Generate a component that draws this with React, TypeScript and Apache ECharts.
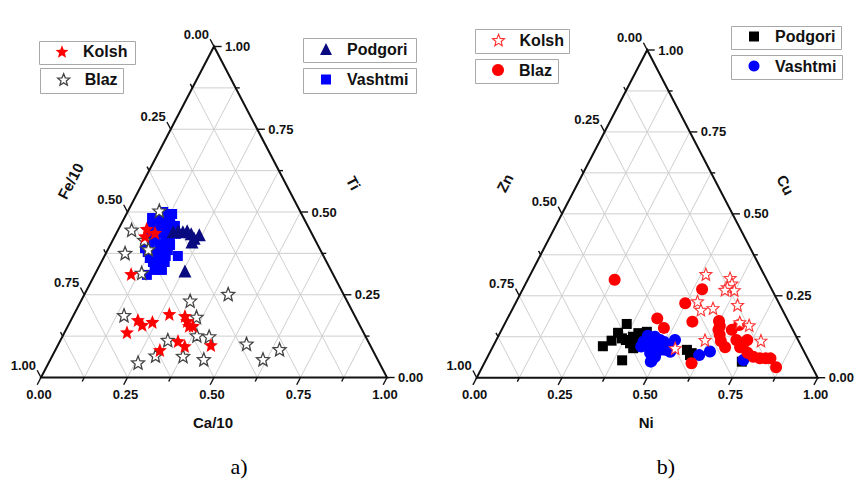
import React, { useEffect, useRef } from 'react';
import * as echarts from 'echarts';

// Axis ticks (shared by both ternary diagrams)
const tickValues = [0, 0.25, 0.5, 0.75, 1];
const tickLabels = ['0.00', '0.25', '0.50', '0.75', '1.00'];
const gridStep = 0.125;

// Axis titles
const titlesA = { bottom: 'Ca/10', left: 'Fe/10', right: 'Ti' };
const titlesB = { bottom: 'Ni', left: 'Zn', right: 'Cu' };
const panelLabels = ['a)', 'b)'];

// Panel a) samples as [Ca/10, Ti]; Fe/10 = 1 - Ca/10 - Ti
const aKolsh = [
  [0.081, 0.449], [0.111, 0.437], [0.087, 0.427], [0.104, 0.313], [0.180, 0.137], [0.193, 0.174],
  [0.213, 0.159], [0.238, 0.168], [0.275, 0.192], [0.323, 0.186], [0.337, 0.171], [0.350, 0.156],
  [0.361, 0.156], [0.341, 0.110], [0.368, 0.095], [0.302, 0.083], [0.442, 0.098],
];
const aBlaz = [
  [0.090, 0.504], [0.039, 0.446], [0.091, 0.415], [0.117, 0.387], [0.055, 0.376], [0.133, 0.316],
  [0.415, 0.252], [0.315, 0.232], [0.146, 0.188], [0.358, 0.183], [0.387, 0.127], [0.424, 0.124],
  [0.310, 0.113], [0.378, 0.065], [0.298, 0.066], [0.258, 0.045], [0.443, 0.055], [0.543, 0.102],
  [0.614, 0.055], [0.647, 0.085],
];
const aPodgori = [
  [0.162, 0.440], [0.175, 0.443], [0.190, 0.440], [0.201, 0.443], [0.217, 0.434], [0.232, 0.421],
  [0.242, 0.431], [0.232, 0.409], [0.255, 0.322],
];
const aVashtmi = [
  [0.103, 0.482], [0.114, 0.488], [0.135, 0.476], [0.100, 0.470], [0.092, 0.458], [0.120, 0.461],
  [0.141, 0.452], [0.158, 0.458], [0.118, 0.440], [0.138, 0.434], [0.159, 0.427], [0.121, 0.415],
  [0.142, 0.403], [0.156, 0.409], [0.116, 0.397], [0.119, 0.379], [0.139, 0.379], [0.157, 0.385],
  [0.157, 0.361], [0.183, 0.349], [0.175, 0.337], [0.187, 0.325], [0.212, 0.367], [0.151, 0.310],
  [0.159, 0.440], [0.173, 0.434], [0.132, 0.470], [0.103, 0.500], [0.107, 0.449], [0.099, 0.431],
  [0.105, 0.391], [0.134, 0.361], [0.149, 0.349], [0.166, 0.325], [0.174, 0.385], [0.173, 0.400],
  [0.177, 0.367], [0.080, 0.482], [0.132, 0.494], [0.098, 0.415],
];

// Panel b) samples as [Ni, Cu]; Zn = 1 - Ni - Cu
const bKolsh = [
  [0.514, 0.316], [0.591, 0.304], [0.605, 0.287], [0.597, 0.276], [0.622, 0.267], [0.594, 0.268],
  [0.531, 0.233], [0.554, 0.207], [0.587, 0.212], [0.654, 0.222], [0.687, 0.169], [0.719, 0.160],
  [0.612, 0.115], [0.777, 0.113], [0.537, 0.090],
];
const bBlaz = [
  [0.255, 0.299], [0.526, 0.270], [0.498, 0.227], [0.547, 0.171], [0.439, 0.181], [0.473, 0.152],
  [0.634, 0.158], [0.636, 0.146], [0.647, 0.131], [0.660, 0.112], [0.682, 0.093], [0.675, 0.146],
  [0.689, 0.161], [0.704, 0.115], [0.726, 0.093], [0.730, 0.107], [0.736, 0.115], [0.756, 0.076],
  [0.779, 0.064], [0.801, 0.059], [0.818, 0.059], [0.832, 0.059], [0.862, 0.032], [0.608, 0.044],
  [0.624, 0.173],
];
const bPodgori = [
  [0.358, 0.164], [0.339, 0.113], [0.322, 0.096], [0.366, 0.120], [0.380, 0.115], [0.397, 0.105],
  [0.396, 0.125], [0.406, 0.136], [0.429, 0.140], [0.414, 0.090], [0.400, 0.053], [0.574, 0.085],
  [0.593, 0.075], [0.591, 0.069], [0.753, 0.049], [0.346, 0.137], [0.421, 0.115],
];
const bVashtmi = [
  [0.449, 0.100], [0.461, 0.105], [0.460, 0.125], [0.480, 0.115], [0.471, 0.075], [0.491, 0.064],
  [0.486, 0.049], [0.510, 0.085], [0.524, 0.115], [0.515, 0.095], [0.435, 0.095], [0.434, 0.110],
  [0.618, 0.069], [0.644, 0.080], [0.755, 0.054], [0.496, 0.085], [0.487, 0.052], [0.438, 0.128],
  [0.478, 0.097], [0.495, 0.109], [0.528, 0.079],
];

const STAR =
  'path://M50 0 L62.9 32.2 L97.6 34.5 L70.9 56.8 L79.4 90.5 L50 72 L20.6 90.5 L29.1 56.8 L2.4 34.5 L37.1 32.2 Z';

const FONT = '"Liberation Sans", Arial, sans-serif';

// ternary [bottom, right] -> cartesian [x, y] in unit triangle
const toXY = (pts: number[][]) => pts.map(([a, t]) => [a + t / 2, t]);

function frameRenderer(titles: { bottom: string; left: string; right: string }) {
  return (_params: any, api: any) => {
    const P = (a: number, t: number) => api.coord([a + t / 2, t]);
    const children: any[] = [];
    const gridStyle = { stroke: '#cfcfcf', lineWidth: 1 };
    const axisStyle = { stroke: '#111', lineWidth: 1.4 };
    const line = (p: number[], q: number[], style: any) =>
      children.push({ type: 'line', shape: { x1: p[0], y1: p[1], x2: q[0], y2: q[1] }, style });
    const text = (s: string, x: number, y: number, align: string, font: string, rotation = 0) =>
      children.push({
        type: 'text',
        x,
        y,
        rotation,
        style: { text: s, align, verticalAlign: 'middle', font, fill: '#111' },
      });
    for (let k = 1; k < 8; k++) {
      const v = k * gridStep;
      line(P(0, v), P(1 - v, v), gridStyle);
      line(P(v, 0), P(v, 1 - v), gridStyle);
      line(P(1 - v, 0), P(0, 1 - v), gridStyle);
    }
    children.push({
      type: 'polygon',
      shape: { points: [P(0, 0), P(1, 0), P(0, 1)] },
      style: { fill: 'none', stroke: '#111', lineWidth: 2 },
    });
    for (let k = 0; k <= 8; k++) {
      const v = k * gridStep;
      const d = k % 2 === 0 ? 0.022 : 0.012;
      line(P(v, 0), P(v, -d), axisStyle);
      line(P(1 - v, v), P(1 - v + d, v), axisStyle);
      line(P(0, 1 - v), P(-d, 1 - v + d), axisStyle);
    }
    const tickFont = 'bold 13px ' + FONT;
    tickValues.forEach((v, i) => {
      const b = P(v, 0);
      text(tickLabels[i], b[0] - 2, b[1] + 16.5, 'center', tickFont);
      const r = P(1 - v, v);
      text(tickLabels[i], r[0] + 11, r[1], 'left', tickFont);
      const l = P(0, 1 - v);
      text(tickLabels[i], l[0] - 5, l[1] - 12.5, 'right', tickFont);
    });
    const titleFont = 'bold 15px ' + FONT;
    const mb = P(0.5, 0);
    text(titles.bottom, mb[0] - 1, mb[1] + 44.5, 'center', titleFont);
    const ml = P(0, 0.5);
    const ang = Math.atan2(P(0, 0)[1] - P(0, 1)[1], P(0, 1)[0] - P(0, 0)[0]);
    text(titles.left, ml[0] - 57, ml[1] - 31, 'center', titleFont, ang);
    const mr = P(0.5, 0.5);
    text(titles.right, mr[0] + 53, mr[1] - 29, 'center', titleFont, -ang);
    return { type: 'group', children };
  };
}

function legendFor(
  name: string,
  box: number[],
  size: number,
  icon: string,
  itemStyle: any
) {
  return {
    data: [{ name, icon }],
    left: box[0] + 23 - size / 2,
    top: box[1] + box[3] / 2 - 9,
    itemWidth: size,
    itemHeight: size,
    padding: 0,
    selectedMode: false,
    itemStyle,
    formatter: (n: string) => n.split(' (')[0],
    textStyle: {
      fontSize: 16,
      fontWeight: 'bold',
      fontFamily: FONT,
      color: '#111',
      padding: [0, 0, 0, 16 - size / 2],
    },
  };
}

const boxesA = [[39, 41, 96, 23], [40, 68, 83, 25], [303, 38, 113, 24], [303, 68, 113, 25]];
const boxesB = [[475, 29, 94, 24], [475, 59, 83, 24], [731, 26, 110, 23], [731, 55, 111, 24]];

export default function App() {
  const ref = useRef<HTMLDivElement>(null);
  useEffect(() => {
    if (!ref.current) return;
    const chart = echarts.init(ref.current, undefined, { renderer: 'svg' });

    const sA = {
      kolsh: { color: '#ff0000' },
      blaz: { color: '#ffffff', borderColor: '#444', borderWidth: 1.3 },
      podgori: { color: '#0a0a80' },
      vashtmi: { color: '#0000ff' },
    };
    const sB = {
      kolsh: { color: '#ffffff', borderColor: '#ff3030', borderWidth: 1.1 },
      blaz: { color: '#ff0000' },
      podgori: { color: '#000000' },
      vashtmi: { color: '#0000ff' },
    };

    const scatter = (name: string, idx: number, pts: number[][], symbol: string, size: number, style: any) => ({
      name,
      type: 'scatter',
      xAxisIndex: idx,
      yAxisIndex: idx,
      data: toXY(pts),
      symbol,
      symbolSize: size,
      itemStyle: { ...style, opacity: 1 },
      z: 3,
      silent: true,
    });

    const option: any = {
      animation: false,
      grid: [
        { left: 41, top: 46.5, width: 346, height: 331 },
        { left: 476.7, top: 50, width: 341, height: 327.7 },
      ],
      xAxis: [
        { type: 'value', gridIndex: 0, min: 0, max: 1, show: false },
        { type: 'value', gridIndex: 1, min: 0, max: 1, show: false },
      ],
      yAxis: [
        { type: 'value', gridIndex: 0, min: 0, max: 1, show: false },
        { type: 'value', gridIndex: 1, min: 0, max: 1, show: false },
      ],
      legend: [
        legendFor('Kolsh (a)', boxesA[0], 13, STAR, sA.kolsh),
        legendFor('Blaz (a)', boxesA[1], 12, STAR, sA.blaz),
        legendFor('Podgori (a)', boxesA[2], 12, 'triangle', sA.podgori),
        legendFor('Vashtmi (a)', boxesA[3], 10, 'rect', sA.vashtmi),
        legendFor('Kolsh (b)', boxesB[0], 12, STAR, sB.kolsh),
        legendFor('Blaz (b)', boxesB[1], 12, 'circle', sB.blaz),
        legendFor('Podgori (b)', boxesB[2], 10, 'rect', sB.podgori),
        legendFor('Vashtmi (b)', boxesB[3], 11, 'circle', sB.vashtmi),
      ],
      graphic: [
        ...[...boxesA, ...boxesB].map((b) => ({
          type: 'rect',
          z: 0,
          silent: true,
          shape: { x: b[0] + 0.5, y: b[1] + 0.5, width: b[2], height: b[3] },
          style: { fill: '#fff', stroke: '#a8a8a8', lineWidth: 1 },
        })),
        {
          type: 'text',
          x: 239,
          y: 466,
          style: { text: panelLabels[0], font: '22px "Liberation Serif", serif', fill: '#000', align: 'center', verticalAlign: 'middle' },
        },
        {
          type: 'text',
          x: 666,
          y: 466,
          style: { text: panelLabels[1], font: '22px "Liberation Serif", serif', fill: '#000', align: 'center', verticalAlign: 'middle' },
        },
      ],
      series: [
        {
          type: 'custom',
          xAxisIndex: 0,
          yAxisIndex: 0,
          data: [[0, 0]],
          renderItem: frameRenderer(titlesA),
          clip: false,
          silent: true,
          z: 1,
        },
        {
          type: 'custom',
          xAxisIndex: 1,
          yAxisIndex: 1,
          data: [[0, 0]],
          renderItem: frameRenderer(titlesB),
          clip: false,
          silent: true,
          z: 1,
        },
        scatter('Vashtmi (a)', 0, aVashtmi, 'rect', 10, sA.vashtmi),
        scatter('Podgori (a)', 0, aPodgori, 'triangle', 13, sA.podgori),
        scatter('Blaz (a)', 0, aBlaz, STAR, 13, sA.blaz),
        scatter('Kolsh (a)', 0, aKolsh, STAR, 14, sA.kolsh),
        scatter('Podgori (b)', 1, bPodgori, 'rect', 10, sB.podgori),
        scatter('Vashtmi (b)', 1, bVashtmi, 'circle', 12, sB.vashtmi),
        scatter('Blaz (b)', 1, bBlaz, 'circle', 12, sB.blaz),
        scatter('Kolsh (b)', 1, bKolsh, STAR, 12, sB.kolsh),
      ],
    };
    chart.setOption(option);
    return () => chart.dispose();
  }, []);
  return (
    <div
      ref={ref}
      style={{ position: 'absolute', left: 0, top: 0, width: 860, height: 487, background: '#fff' }}
    />
  );
}
